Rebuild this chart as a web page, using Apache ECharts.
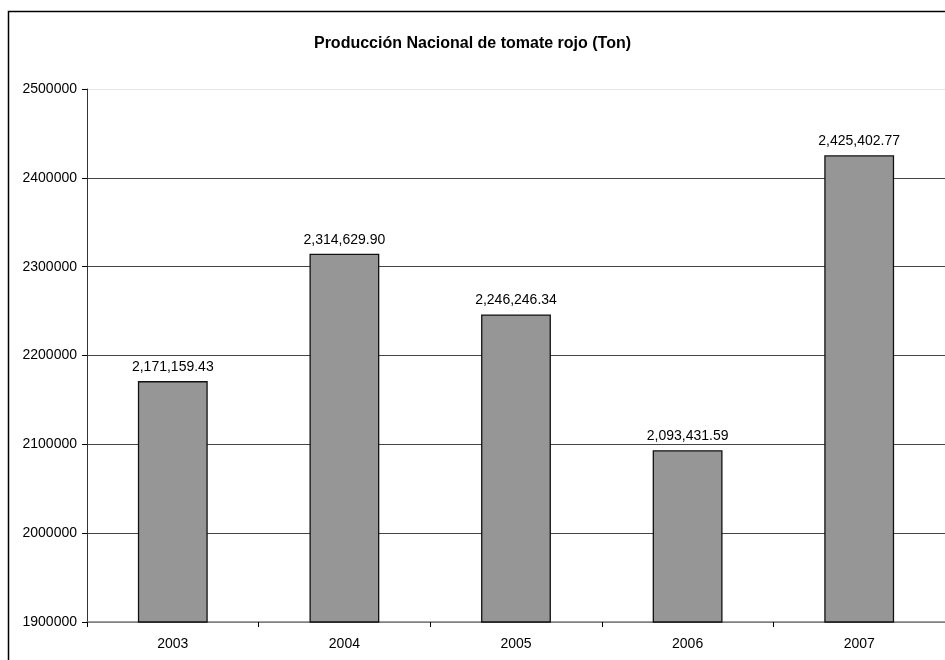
<!DOCTYPE html>
<html>
<head>
<meta charset="utf-8">
<script src="https://cdn.jsdelivr.net/npm/echarts@6/dist/echarts.min.js"></script>
<style>
  html, body { margin: 0; padding: 0; background: #fff; }
  #chart { width: 945px; height: 660px; }
</style>
</head>
<body>
<div id="chart"></div>
<script>
// Annual national production of red tomato, in tonnes
const years = ['2003', '2004', '2005', '2006', '2007'];
const production = [2171159.43, 2314629.90, 2246246.34, 2093431.59, 2425402.77];
const yMin = 1900000;
const yMax = 2500000;
const yStep = 100000;

function fmtThousands(v) {
  return v.toLocaleString('en-US', { minimumFractionDigits: 2, maximumFractionDigits: 2 });
}

const chart = echarts.init(document.getElementById('chart'), null, { renderer: 'canvas' });
const font = 'Liberation Sans, Arial, sans-serif';

chart.setOption({
  animation: false,
  backgroundColor: '#ffffff',
  textStyle: { fontFamily: font },
  title: {
    text: 'Producción Nacional de tomate rojo (Ton)',
    left: 'center',
    top: 31,
    textStyle: { fontFamily: font, fontSize: 16, fontWeight: 'bold', color: '#000' }
  },
  graphic: [{
    type: 'rect',
    left: 6, top: 9,
    shape: { width: 960, height: 680 },
    style: { fill: 'none', stroke: '#000', lineWidth: 1.5 },
    silent: true
  }],
  grid: { left: 87, right: -2, top: 89, bottom: 38, containLabel: false },
  xAxis: {
    type: 'category',
    data: years,
    axisLine: { lineStyle: { color: '#808080', width: 1.5 } },
    axisTick: { show: true, alignWithLabel: false, length: 5, lineStyle: { color: '#000' } },
    axisLabel: { color: '#000', fontSize: 14, margin: 15, fontFamily: font }
  },
  yAxis: {
    type: 'value',
    min: yMin,
    max: yMax,
    interval: yStep,
    axisLine: { show: true, lineStyle: { color: '#333', width: 1 } },
    axisTick: { show: true, length: 5, lineStyle: { color: '#000' } },
    axisLabel: { color: '#000', fontSize: 14, margin: 10, fontFamily: font, formatter: v => String(v) },
    splitLine: {
      show: true,
      lineStyle: { color: ['#808080', '#444', '#444', '#444', '#444', '#444', '#e6e6e6'], width: 1 }
    }
  },
  series: [{
    type: 'bar',
    data: production,
    barWidth: '40.7%',
    itemStyle: { color: '#969696', borderColor: '#111', borderWidth: 1.3 },
    label: {
      show: true,
      position: 'top',
      distance: 7,
      color: '#000',
      fontSize: 14,
      fontFamily: font,
      formatter: p => fmtThousands(p.value)
    }
  }]
});
</script>
</body>
</html>
